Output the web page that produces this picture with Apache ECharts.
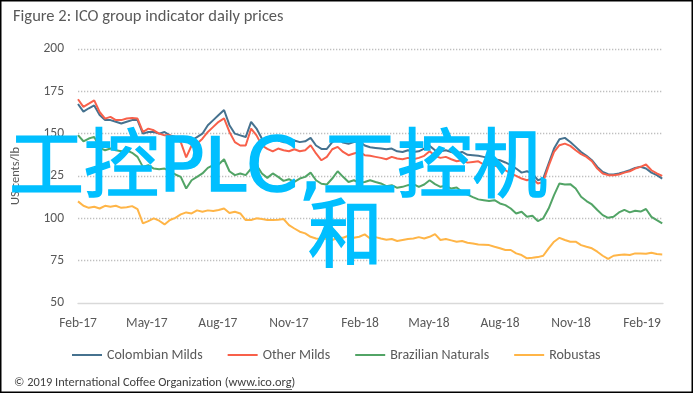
<!DOCTYPE html>
<html><head><meta charset="utf-8">
<script src="https://cdn.jsdelivr.net/npm/echarts@6/dist/echarts.min.js"></script>
<style>html,body{margin:0;padding:0;background:#fff}#c{width:695px;height:394px}</style>
</head><body><div id="c"></div>
<script>
const dates = ['2017-02-01','2017-02-08','2017-02-15','2017-02-22','2017-03-01','2017-03-08','2017-03-15','2017-03-22','2017-03-29','2017-04-05','2017-04-12','2017-04-19','2017-04-26','2017-05-03','2017-05-10','2017-05-17','2017-05-24','2017-05-31','2017-06-07','2017-06-14','2017-06-21','2017-06-28','2017-07-05','2017-07-12','2017-07-19','2017-07-26','2017-08-02','2017-08-09','2017-08-16','2017-08-23','2017-08-30','2017-09-06','2017-09-13','2017-09-20','2017-09-27','2017-10-04','2017-10-11','2017-10-18','2017-10-25','2017-11-01','2017-11-08','2017-11-15','2017-11-22','2017-11-29','2017-12-06','2017-12-13','2017-12-20','2017-12-27','2018-01-03','2018-01-10','2018-01-17','2018-01-24','2018-01-31','2018-02-07','2018-02-14','2018-02-21','2018-02-28','2018-03-07','2018-03-14','2018-03-21','2018-03-28','2018-04-04','2018-04-11','2018-04-18','2018-04-25','2018-05-02','2018-05-09','2018-05-16','2018-05-23','2018-05-30','2018-06-06','2018-06-13','2018-06-20','2018-06-27','2018-07-04','2018-07-11','2018-07-18','2018-07-25','2018-08-01','2018-08-08','2018-08-15','2018-08-22','2018-08-29','2018-09-05','2018-09-12','2018-09-19','2018-09-26','2018-10-03','2018-10-10','2018-10-17','2018-10-24','2018-10-31','2018-11-07','2018-11-14','2018-11-21','2018-11-28','2018-12-05','2018-12-12','2018-12-19','2018-12-26','2019-01-02','2019-01-09','2019-01-16','2019-01-23','2019-01-30','2019-02-06','2019-02-13','2019-02-20','2019-02-27'];

const colombianMilds = [167.5,163,165,166.7,161,158,158,157,156,157,158,158,150,151,151,150,151,149,148,146,145,146,148,150,155,158,161,164,155,150,149,148,157,153,147,146,148,146,145,145,146,145,145.5,147.5,143,141,141,145,147.5,144.7,144,145,145.5,143,142,141.6,141.2,140.8,141.2,139.6,139.2,140.2,139.2,139.6,141.2,142.8,140.2,139.6,140.2,139.2,138.3,139.2,137.5,137.3,136.9,136.3,135.3,134.9,134.3,133,131.4,129.4,127,127.8,126.5,122.5,123.5,132.4,141.2,146.7,147.5,145.1,142.2,139.2,136.9,134.3,130.4,127.4,126.1,125.9,126.5,127.4,128.4,129.8,130.4,129.4,127,125.5,123.5];

const otherMilds = [170.3,165.8,167.7,169.7,162.8,158.9,159.9,158,158,159,159.3,158.9,151,153,152,150,149,149,147,145,136,143,144,147,151,154,157,159,151,145,143,143,153,149,143,141,139.5,141.2,140.2,139.6,140.8,139.6,140.2,143.2,138.3,134.3,136.3,140.8,142.2,139.2,137.3,138.3,139.2,137.3,136.9,136.3,135.7,134.9,136.3,135.3,134.9,135.7,134.9,135.7,136.9,139.6,136.9,135.7,136.3,134.9,133.7,134.3,132.9,133.3,133.7,131.8,131.4,131,130.4,128.4,126.5,125.1,123.5,122.5,123.5,120.6,121.5,131,139.2,143.2,144.1,142.8,140.2,137.9,136.3,133.7,129.4,126.5,125.5,125.5,125.9,127,127.8,129.4,130.4,131.8,128.4,126.5,125.1];

const brazilianNaturals = [149.1,145.5,147.1,148.1,141.6,140.2,141.2,140.2,139.6,140.2,138.7,136.3,130.4,131.4,129.4,129,129.4,127.8,125.9,124.5,117.6,122.5,124.5,126.5,129.8,131.4,131.8,134.9,127.8,125.5,126.5,125.5,129.4,131.4,126.5,123.9,126.5,124.5,122.1,123.1,121.5,123.5,124.5,127,122.5,120.4,120,123.5,127.8,124.5,121.5,122.5,121,121.5,122.5,121.5,120.6,119,119.6,118,118.6,119.6,120.2,118.6,120,122.5,120.2,118.6,119.2,117.6,118.2,115.7,114,112.5,111.2,110.7,110.2,110.7,108.8,107.8,105.8,102.9,103.9,100.9,101.5,98.4,100,105.8,113.7,120.6,120,120.2,117.6,112.7,110.2,108.2,104.9,101.9,100.3,100.9,103.5,105,103.5,104.5,104,105.5,100.9,98.9,97];

const robustas = [110,107.4,106.2,106.8,105.8,107.4,106.8,107.4,106.2,106.6,107.2,105.4,97,98.4,100,98.6,96.4,99,100.3,102.3,103.5,102.9,104.7,103.9,104.7,104.3,104.9,105.8,103.1,103.9,102.9,99,99,100,99.6,99,99,99.2,99.6,96,94,92.1,91.1,89.1,88.1,87.6,88.1,87.2,88.5,88.5,89.7,88.5,89.1,90.5,88.1,88.9,88.1,87.4,87.8,86.6,87.2,87.8,88.1,88.9,88.1,89.1,90.7,87.2,87.8,87,86.2,86.6,85.6,85.2,84.6,84.4,84.2,83.2,82.3,81.3,81.3,79.3,78.3,76.4,76.7,77.1,77.9,82.3,86.2,88.5,87.2,86.2,86.2,84.2,83.2,82.3,80.3,77.9,76,77.9,78.3,78.7,78.3,79.3,79.3,79.1,79.7,78.9,78.7];

const seriesNames = ['Colombian Milds','Other Milds','Brazilian Naturals','Robustas'];
const seriesColors = ['#46728f','#f8604a','#52a466','#ffb547'];
const tickDates = ['2017-02-01','2017-05-01','2017-08-01','2017-11-01','2018-02-01','2018-05-01','2018-08-01','2018-11-01','2019-02-01'];
const monthNames = ['Jan','Feb','Mar','Apr','May','Jun','Jul','Aug','Sep','Oct','Nov','Dec'];
const yTicks = {min: 50, max: 200, interval: 25};
const titleText = 'Figure 2: ICO group indicator daily prices';
const yAxisName = 'US cents/lb';
const footerText = '\u00a9 2019 International Coffee Organization (www.ico.org)';
const watermark1 = '工控PLC,工控机';
const watermark2 = '和';

function ts(s){const p=s.split('-');return new Date(+p[0],+p[1]-1,+p[2]).getTime();}
const FF = "Carlito, Lato, 'Open Sans', sans-serif";
const WMF = "75px 'DejaVu Sans', 'Noto Sans CJK SC'";
const allValues = [colombianMilds, otherMilds, brazilianNaturals, robustas];

const chart = echarts.init(document.getElementById('c'), null, {renderer:'canvas'});
chart.setOption({
  animation: false,
  backgroundColor: '#ffffff',
  title: {text: titleText, left: 8, top: 3, textStyle: {fontFamily: FF, fontSize: 16.5, fontWeight: 'normal', color: '#595959'}},
  grid: {left: 78, right: 32, top: 49, bottom: 91},
  legend: {
    data: seriesNames, left: 67, top: 343, icon: 'rect', itemWidth: 30, itemHeight: 2, itemGap: 25,
    textStyle: {fontFamily: FF, fontSize: 14, color: '#595959'}
  },
  xAxis: {
    type: 'value', min: ts('2017-02-01'), max: ts('2019-02-28'),
    axisLine: {lineStyle: {color: '#d9d9d9', width: 1.3}},
    axisTick: {show: false},
    splitLine: {show: false},
    axisLabel: {
      customValues: tickDates.map(ts),
      formatter: function(v){const d=new Date(v);return monthNames[d.getMonth()]+'-'+String(d.getFullYear()).slice(2);},
      margin: 14, color: '#595959', fontSize: 13.5, fontFamily: FF
    }
  },
  yAxis: {
    type: 'value', min: yTicks.min, max: yTicks.max, interval: yTicks.interval,
    axisLine: {show: false}, axisTick: {show: false},
    axisLabel: {margin: 14, color: '#595959', fontSize: 13.5, fontFamily: FF},
    splitLine: {showMinLine: false, lineStyle: {color: '#bfbfbf', type: [1.3, 1.7], width: 1.3}},
    name: yAxisName, nameLocation: 'middle', nameGap: 56,
    nameTextStyle: {fontFamily: FF, fontSize: 12.5, color: '#595959'}
  },
  series: seriesNames.map((n, i) => ({
    name: n, type: 'line', symbol: 'none', showSymbol: false,
    data: dates.map((d, j) => [ts(d), allValues[i][j]]),
    lineStyle: {width: 2, color: seriesColors[i]},
    itemStyle: {color: seriesColors[i]}
  })),
  graphic: [
    {type: 'text', z: 100, style: {text: watermark1, x: 9, y: 172, verticalAlign: 'middle', font: WMF, fill: '#00bfff', stroke: '#00bfff', lineWidth: 1.5}},
    {type: 'text', z: 100, style: {text: watermark2, x: 308, y: 242, verticalAlign: 'middle', font: WMF, fill: '#00bfff', stroke: '#00bfff', lineWidth: 1.5}},
    {type: 'text', z: 100, style: {text: footerText, x: 14, y: 383, verticalAlign: 'middle', font: "12.4px " + FF, fill: '#404040'}},
    {type: 'line', z: 100, shape: {x1: 240, y1: 389.5, x2: 292, y2: 389.5}, style: {stroke: '#404040', lineWidth: 0.8}},
    {type: 'rect', z: 100, shape: {x: 0.75, y: 0.75, width: 691.5, height: 391.5}, style: {fill: 'none', stroke: '#000', lineWidth: 1.5}}
  ]
});
</script></body></html>
